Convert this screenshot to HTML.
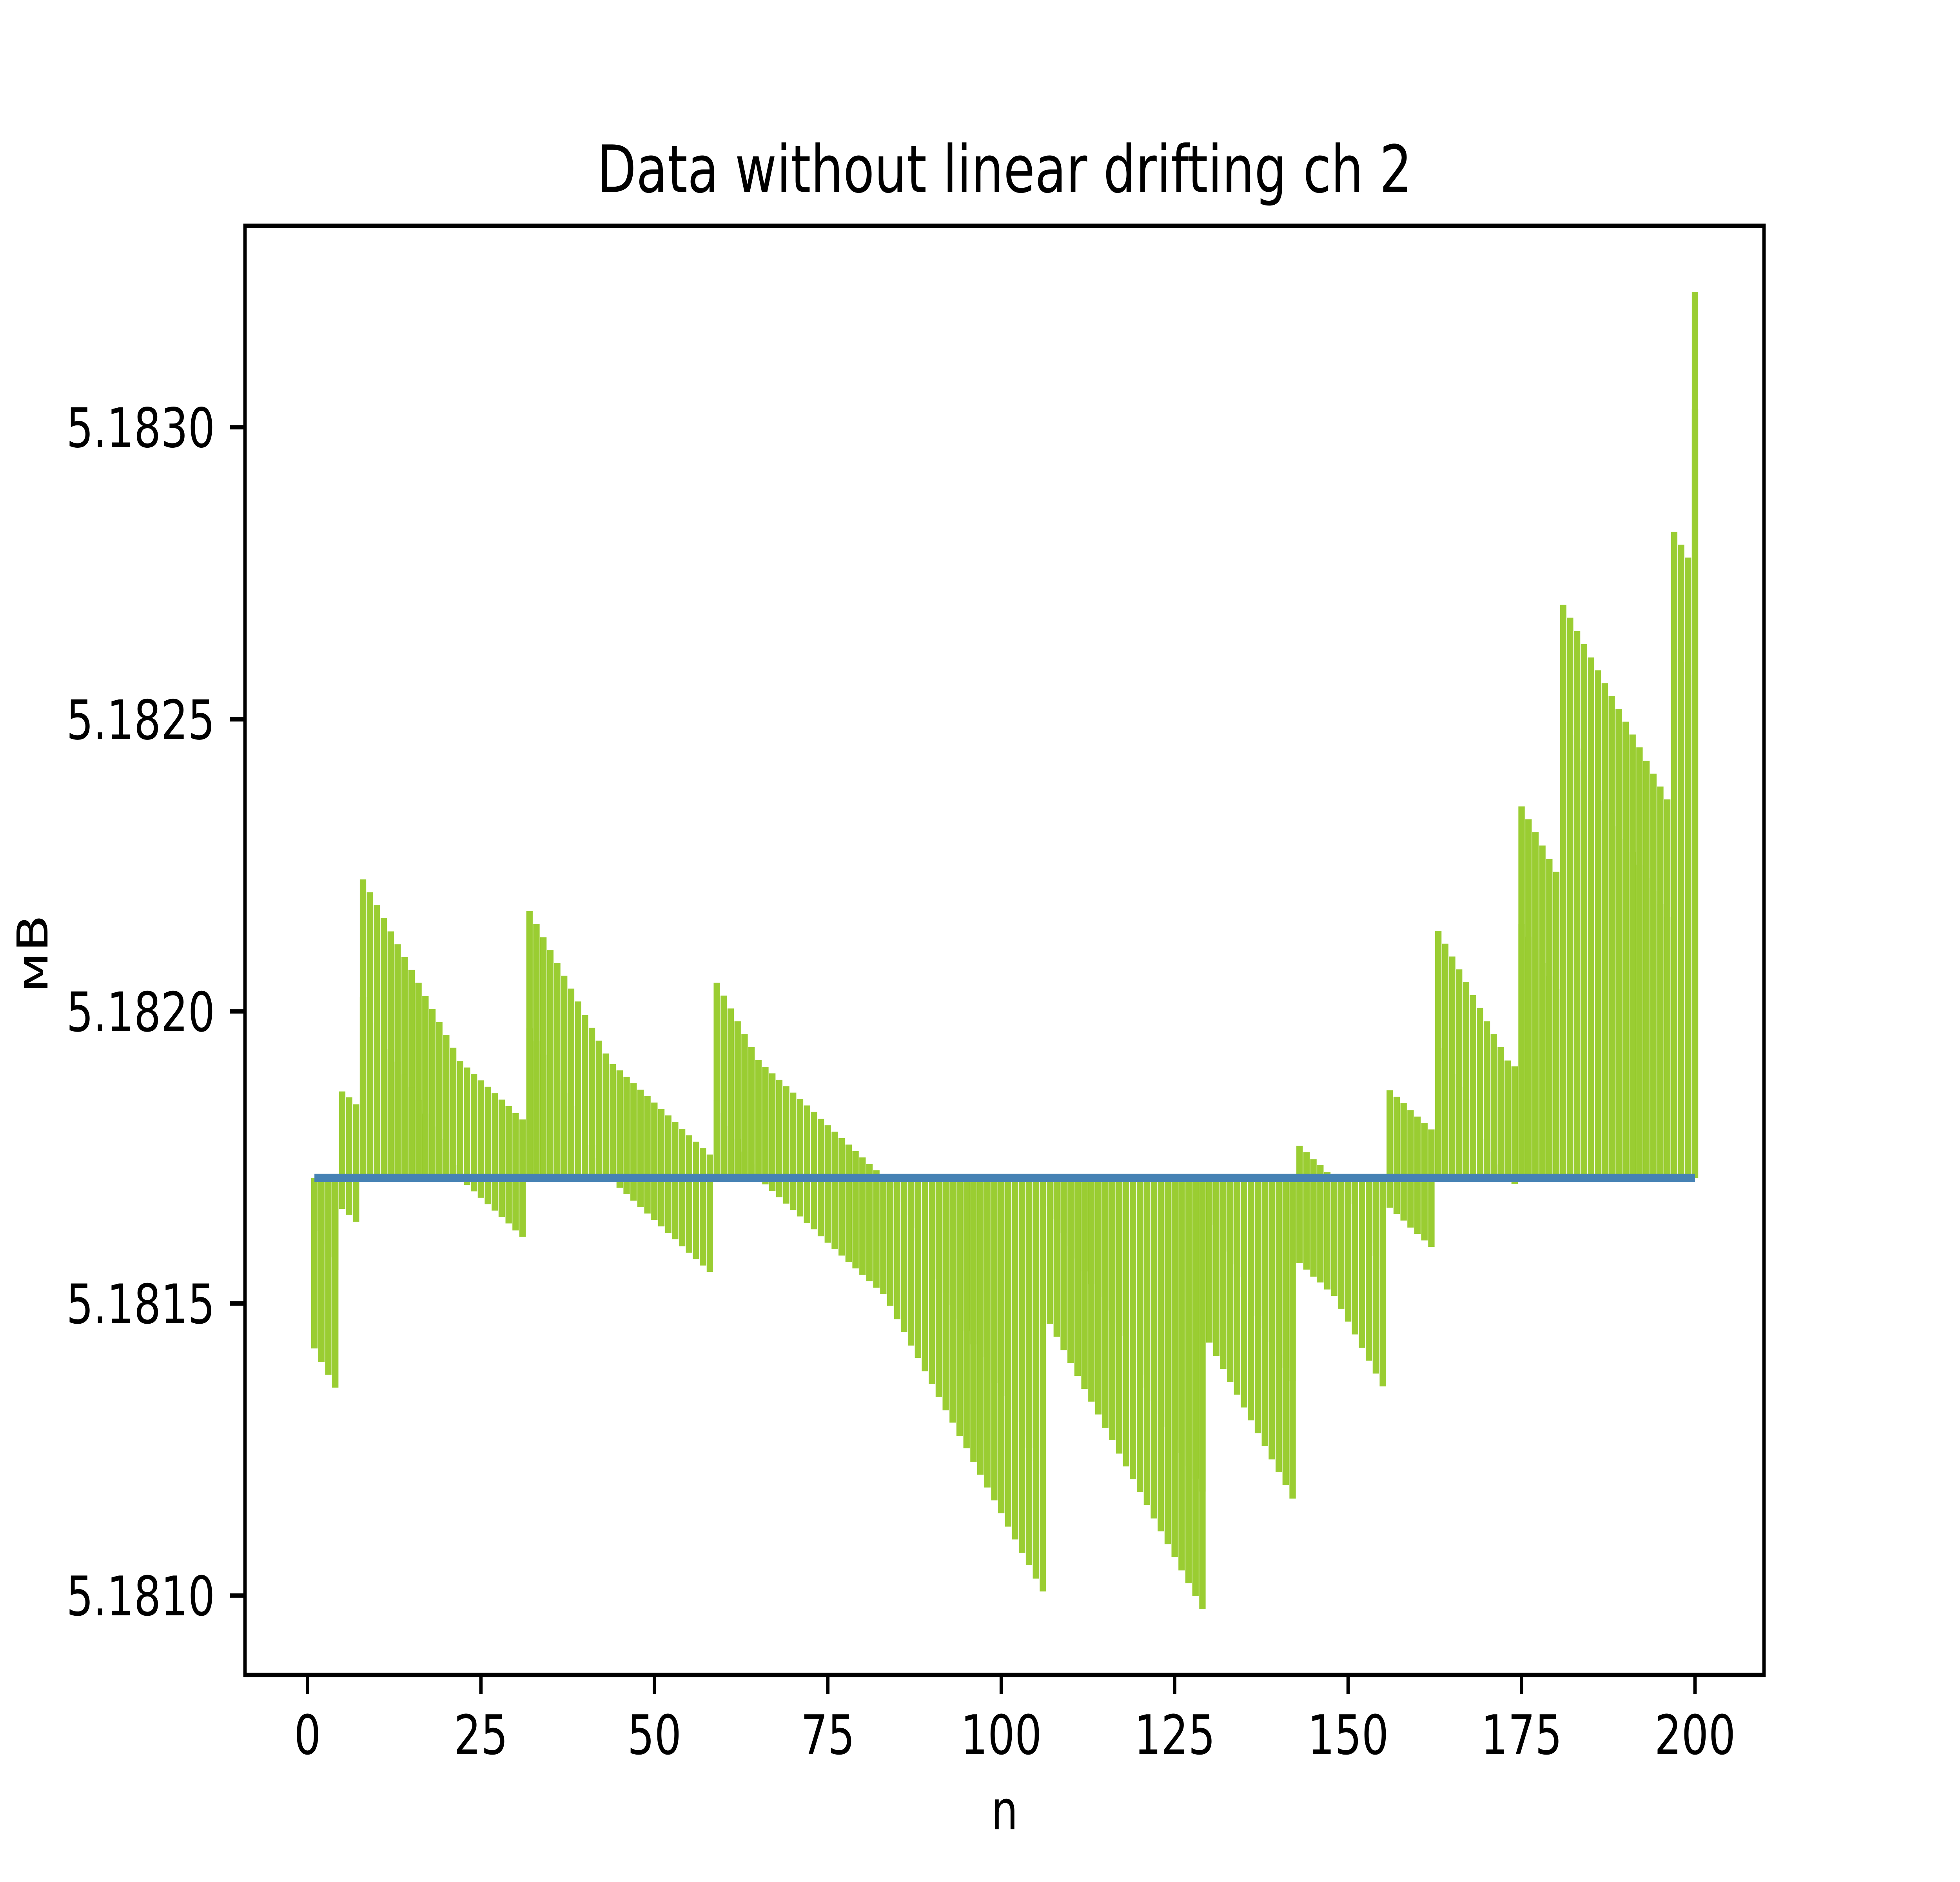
<!DOCTYPE html>
<html><head><meta charset="utf-8"><style>
html,body{margin:0;padding:0;background:#fff;width:100%;height:100%;overflow:hidden;}
svg{display:block;width:100vw;height:100vh;}
text{font-family:"DejaVu Sans","Liberation Sans",sans-serif;fill:#000;}
</style></head><body>
<svg id="chart" xmlns="http://www.w3.org/2000/svg" viewBox="0 0 1568 1176" preserveAspectRatio="none">
<rect x="0" y="0" width="1568" height="1176" fill="#fff"/>
<g id="bars"></g>
<g id="line"></g>
<rect x="196" y="141.1" width="1215.2" height="905.5" fill="none" stroke="#000" stroke-width="2.7"/>
<g id="xticks"></g>
<g id="yticks"></g>
<text x="803.6" y="120" font-size="40.8" text-anchor="middle">Data without linear drifting ch 2</text>
<text x="803.6" y="1143" font-size="34" text-anchor="middle">n</text>
<text x="38" y="596" font-size="34" text-anchor="middle" transform="rotate(-90 38 596)">мВ</text>
</svg>
<script>
const nValues = Array.from({length:200},(_,i)=>i+1);
const values = [
5.181624,5.181601,5.181579,5.181557,5.181863,5.181853,5.181841,5.182226,5.182204,5.182182,
5.182160,5.182137,5.182115,5.182093,5.182071,5.182049,5.182026,5.182004,5.181982,5.181960,
5.181938,5.181915,5.181904,5.181893,5.181882,5.181871,5.181860,5.181849,5.181838,5.181826,
5.181815,5.182172,5.182150,5.182127,5.182105,5.182083,5.182061,5.182039,5.182017,5.181994,
5.181972,5.181950,5.181928,5.181910,5.181899,5.181888,5.181877,5.181866,5.181855,5.181844,
5.181833,5.181822,5.181811,5.181799,5.181788,5.181777,5.181766,5.181755,5.182049,5.182027,
5.182005,5.181983,5.181961,5.181939,5.181917,5.181905,5.181894,5.181883,5.181872,5.181861,
5.181850,5.181839,5.181828,5.181816,5.181805,5.181794,5.181783,5.181772,5.181761,5.181750,
5.181739,5.181728,5.181717,5.181697,5.181674,5.181652,5.181629,5.181608,5.181585,5.181563,
5.181541,5.181518,5.181497,5.181474,5.181453,5.181430,5.181408,5.181386,5.181364,5.181342,
5.181319,5.181297,5.181274,5.181253,5.181230,5.181208,5.181666,5.181644,5.181621,5.181599,
5.181577,5.181555,5.181533,5.181511,5.181488,5.181467,5.181444,5.181422,5.181400,5.181378,
5.181356,5.181333,5.181311,5.181289,5.181267,5.181244,5.181222,5.181200,5.181178,5.181634,
5.181611,5.181589,5.181567,5.181545,5.181523,5.181501,5.181479,5.181457,5.181434,5.181412,
5.181390,5.181367,5.181770,5.181759,5.181747,5.181737,5.181725,5.181714,5.181692,5.181670,
5.181648,5.181625,5.181603,5.181581,5.181559,5.181865,5.181854,5.181843,5.181831,5.181820,
5.181809,5.181798,5.182138,5.182116,5.182094,5.182072,5.182050,5.182028,5.182006,5.181983,
5.181961,5.181939,5.181916,5.181906,5.182351,5.182329,5.182307,5.182284,5.182261,5.182239,
5.182696,5.182674,5.182651,5.182629,5.182606,5.182584,5.182562,5.182540,5.182518,5.182496,
5.182474,5.182452,5.182429,5.182407,5.182385,5.182363,5.182821,5.182799,5.182777,5.183232
];
const driftOffset = 0.000201;
const baselineValue = 5.181715;
const xTicks = [0,25,50,75,100,125,150,175,200];
const yTicks = [5.181,5.1815,5.182,5.1825,5.183];
const yTickLabels = ["5.1810","5.1815","5.1820","5.1825","5.1830"];

const NS="http://www.w3.org/2000/svg";
function xs(v){return 246+(v-0)*(1356-246)/200;}
function ys(v){return 997+(v-5.181)*(267-997)/0.002;}
const barW = 0.92*(xs(1)-xs(0));
const barsG=document.getElementById('bars');
function addBar(n,a,b,name){
  const top=Math.min(ys(a),ys(b)), bot=Math.max(ys(a),ys(b));
  const r=document.createElementNS(NS,'rect');
  r.setAttribute('x',xs(n)-barW/2);
  r.setAttribute('y',top);
  r.setAttribute('width',barW);
  r.setAttribute('height',Math.max(0.01,bot-top));
  r.setAttribute('fill','#9acd32');
  
  
  barsG.appendChild(r);
}
nValues.forEach((n,i)=>{
  addBar(n,baselineValue,values[i],'bar-raw-'+n);
  addBar(n,baselineValue,values[i]-driftOffset,'bar-corrected-'+n);
});
const lg=document.getElementById('line');
const ln=document.createElementNS(NS,'line');
ln.setAttribute('x1',xs(nValues[0]));ln.setAttribute('x2',xs(nValues[nValues.length-1]));
ln.setAttribute('y1',ys(baselineValue));ln.setAttribute('y2',ys(baselineValue));
ln.setAttribute('stroke','#4682b4');ln.setAttribute('stroke-width','5.1');


lg.appendChild(ln);
const xg=document.getElementById('xticks');
xTicks.forEach(t=>{
  const l=document.createElementNS(NS,'line');
  l.setAttribute('x1',xs(t));l.setAttribute('x2',xs(t));l.setAttribute('y1',1046.6);l.setAttribute('y2',1058.5);
  l.setAttribute('stroke','#000');l.setAttribute('stroke-width','2.7');
  
  
  xg.appendChild(l);
  const tx=document.createElementNS(NS,'text');
  tx.setAttribute('x',xs(t));tx.setAttribute('y',1096);tx.setAttribute('font-size','34');tx.setAttribute('text-anchor','middle');
  tx.textContent=String(t);
  
  
  xg.appendChild(tx);
});
const yg=document.getElementById('yticks');
yTicks.forEach((t,i)=>{
  const l=document.createElementNS(NS,'line');
  l.setAttribute('x1',184.1);l.setAttribute('x2',196);l.setAttribute('y1',ys(t));l.setAttribute('y2',ys(t));
  l.setAttribute('stroke','#000');l.setAttribute('stroke-width','2.7');
  
  
  yg.appendChild(l);
  const tx=document.createElementNS(NS,'text');
  tx.setAttribute('x',172);tx.setAttribute('y',ys(t)+12.3);tx.setAttribute('font-size','34');tx.setAttribute('text-anchor','end');
  tx.textContent=yTickLabels[i];
  
  
  yg.appendChild(tx);
});
</script>
</body></html>
